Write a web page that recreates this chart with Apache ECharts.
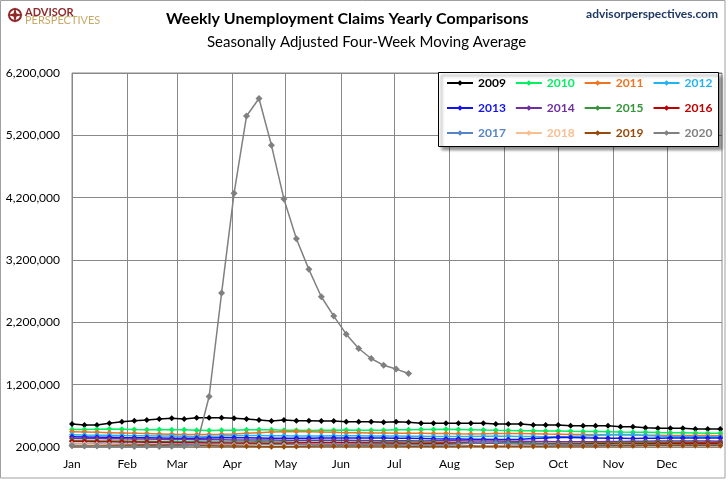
<!DOCTYPE html>
<html>
<head>
<meta charset="utf-8">
<script src="https://cdn.jsdelivr.net/npm/echarts@6/dist/echarts.min.js"></script>
<style>
  html, body { margin: 0; padding: 0; background: #fff; }
  #chartContainer { width: 728px; height: 480px; }
</style>
</head>
<body>
<div id="chartContainer"></div>
<script>
// month gridlines (day of year) and their labels
var monthStarts = [0, 31, 59, 90, 120, 151, 181, 212, 243, 273, 304, 334];
var monthLabels = ['Jan', 'Feb', 'Mar', 'Apr', 'May', 'Jun', 'Jul', 'Aug', 'Sep', 'Oct', 'Nov', 'Dec'];

// y axis ticks
var yMin = 200000, yMax = 6200000, yStep = 1000000;

var yearNames = ['2009', '2010', '2011', '2012', '2013', '2014', '2015', '2016', '2017', '2018', '2019', '2020'];
var yearColors = ['#000000', '#00f060', '#ee7422', '#22b4f0', '#1414f0', '#7030a0', '#35953a', '#c00000', '#5585c5', '#f9bf8f', '#984807', '#808080'];

// weekly 4-week moving average, thousands of claims
var claims2009 = [569, 553, 553, 580, 606, 622, 633, 649, 660, 649, 671, 671, 671, 660, 649, 633, 617, 633, 622, 622, 617, 617, 606, 606, 606, 596,
                  606, 596, 580, 580, 580, 580, 580, 580, 569, 569, 569, 553, 553, 553, 542, 542, 542, 542, 526, 526, 510, 500, 500, 500, 489, 489, 489];
var claims2010 = [480, 482, 485, 488, 485, 480, 478, 480, 478, 475, 470, 465, 468, 470, 475, 478, 475, 470, 468, 465, 468, 470, 472, 470, 468, 470,
                  475, 478, 480, 482, 485, 482, 478, 472, 468, 465, 462, 460, 458, 455, 452, 450, 448, 445, 440, 438, 435, 432, 430, 428, 425, 422, 420];
var claims2011 = [445, 440, 435, 430, 425, 420, 415, 410, 405, 400, 400, 402, 405, 410, 420, 430, 440, 445, 450, 445, 440, 435, 430, 428, 425, 424,
                  422, 420, 420, 418, 415, 412, 410, 412, 415, 418, 416, 412, 408, 405, 402, 400, 398, 396, 395, 393, 390, 388, 386, 385, 384, 383, 382];
var claims2012 = [395, 392, 390, 388, 385, 382, 380, 378, 375, 372, 370, 372, 375, 380, 385, 385, 382, 380, 378, 376, 378, 380, 382, 380, 378, 376,
                  375, 374, 372, 370, 368, 368, 370, 372, 374, 372, 370, 368, 366, 365, 368, 375, 385, 395, 400, 395, 385, 375, 370, 368, 366, 365, 364];
var claims2013 = [365, 362, 358, 355, 352, 350, 348, 345, 342, 340, 342, 345, 348, 350, 348, 345, 342, 340, 340, 342, 344, 345, 346, 345, 344, 343,
                  342, 340, 336, 332, 330, 328, 326, 324, 322, 320, 325, 335, 345, 355, 352, 348, 345, 342, 340, 338, 340, 342, 345, 346, 345, 344, 343];
var claims2014 = [340, 338, 336, 334, 332, 330, 328, 325, 322, 320, 318, 316, 315, 314, 313, 312, 311, 310, 310, 310, 309, 308, 307, 305, 303, 302,
                  300, 299, 298, 299, 300, 300, 298, 296, 295, 294, 292, 290, 288, 286, 285, 284, 286, 288, 290, 292, 294, 295, 296, 297, 296, 295, 294];
var claims2015 = [305, 303, 300, 298, 296, 294, 292, 290, 288, 286, 284, 282, 280, 280, 282, 284, 282, 280, 278, 276, 276, 275, 275, 276, 278, 280,
                  282, 282, 280, 276, 272, 270, 270, 270, 272, 274, 270, 266, 262, 260, 262, 264, 268, 270, 272, 274, 275, 276, 276, 275, 275, 274, 274];
var claims2016 = [290, 288, 286, 284, 282, 280, 278, 275, 272, 270, 268, 266, 264, 262, 260, 258, 258, 260, 264, 268, 270, 270, 268, 266, 264, 262,
                  260, 258, 256, 258, 260, 262, 264, 262, 260, 258, 256, 254, 252, 250, 250, 252, 254, 252, 250, 252, 254, 256, 258, 260, 262, 262, 262];
var claims2017 = [252, 250, 248, 246, 245, 245, 244, 244, 245, 246, 246, 245, 244, 243, 242, 240, 240, 241, 242, 243, 244, 245, 246, 246, 245, 244,
                  242, 240, 238, 238, 242, 250, 262, 270, 268, 258, 250, 248, 245, 242, 240, 240, 238, 238, 237, 236, 236, 235, 235, 236, 237, 238, 238];
var claims2018 = [248, 245, 240, 236, 232, 228, 225, 224, 222, 222, 224, 226, 228, 230, 228, 226, 222, 220, 220, 220, 221, 222, 222, 222, 220, 218,
                  216, 215, 214, 213, 212, 212, 210, 209, 208, 208, 209, 210, 212, 214, 216, 218, 220, 222, 224, 224, 222, 222, 223, 222, 222, 222, 221];
var claims2019 = [215, 218, 222, 225, 228, 230, 232, 230, 228, 225, 222, 220, 218, 215, 212, 208, 205, 205, 208, 212, 215, 216, 217, 218, 218, 218,
                  216, 214, 212, 212, 213, 214, 215, 214, 213, 212, 212, 213, 214, 215, 216, 216, 218, 220, 222, 222, 224, 226, 226, 225, 225, 224, 224];
var claims2020 = [224, 216, 215, 213, 212, 210, 211, 210, 213, 215, 232, 1010, 2670, 4270, 5510, 5790, 5040, 4180, 3540, 3050, 2610, 2300, 2010, 1780,
                  1620, 1510, 1450, 1380];

var allClaims = [claims2009, claims2010, claims2011, claims2012, claims2013, claims2014, claims2015, claims2016, claims2017, claims2018, claims2019, claims2020];

function Set_Claims_echarts(){
    var chartContainer = document.getElementById('chartContainer');
    var myChart = echarts.init(chartContainer, null, { renderer: 'canvas' });
    var fontName = 'Lato';

    // week i of each year sits 7*i days after Jan 1 on the shared axis
    var series = allClaims.map(function (values, k) {
        return {
            name: yearNames[k],
            type: 'line',
            symbol: 'diamond',
            symbolSize: k === 11 ? 7 : 6,
            lineStyle: { width: 1.5, color: yearColors[k] },
            itemStyle: { color: yearColors[k] },
            emphasis: { disabled: true },
            data: values.map(function (v, i) { return [i * 7, v * 1000]; })
        };
    });

    // one legend per row of four years, inside a shared framed box
    var legendRowTops = [77, 102, 127];
    var legends = legendRowTops.map(function (top, r) {
        return {
            left: 446, top: top,
            orient: 'horizontal',
            itemWidth: 26, itemHeight: 7, itemGap: 9,
            padding: 0,
            z: 12,
            selectedMode: false,
            textStyle: { fontFamily: fontName, fontWeight: 'bold', fontSize: 12 },
            data: yearNames.slice(r * 4, r * 4 + 4).map(function (n, j) {
                return { name: n, textStyle: { color: yearColors[r * 4 + j] } };
            })
        };
    });

    var option = {
    animation: false,
    textStyle: { fontFamily: fontName },
    grid: {
        left: 72, right: 6, top: 73, bottom: 33,
        show: true, borderColor: '#888', borderWidth: 1
    },
    graphic: [
        { type: 'rect', shape: { x: 0.5, y: 0.5, width: 724.5, height: 477.5 },
          style: { fill: 'none', stroke: '#a0a0a0', lineWidth: 1 }, silent: true },
        { type: 'rect', z: 10, shape: { x: 438.5, y: 72.5, width: 280, height: 74 },
          style: { fill: '#fff', stroke: '#000', lineWidth: 1,
                   shadowColor: 'rgba(0,0,0,0.45)', shadowBlur: 3, shadowOffsetX: 3, shadowOffsetY: 3 } },
        { type: 'circle', shape: { cx: 15, cy: 15, r: 6 },
          style: { fill: '#fff', stroke: '#8e2a2a', lineWidth: 2 } },
        { type: 'polygon', shape: { points: [[15, 7], [16.5, 13.5], [23, 15], [16.5, 16.5], [15, 23], [13.5, 16.5], [7, 15], [13.5, 13.5]] },
          style: { fill: '#8e2a2a' } },
        { type: 'text', left: 25, top: 7,
          style: { text: 'ADVISOR', fill: '#8e2a2a', font: 'bold 11px Lato' } },
        { type: 'text', left: 25, top: 15,
          style: { text: 'PERSPECTIVES', fill: '#c8a96a', font: '11px Lato' } },
        { type: 'text', left: 166, top: 11,
          style: { text: 'Weekly Unemployment Claims Yearly Comparisons', fill: '#000', font: 'bold 16px Lato' } },
        { type: 'text', left: 207, top: 35,
          style: { text: 'Seasonally Adjusted Four-Week Moving Average', fill: '#000', font: '15px Lato' } },
        { type: 'text', right: 10, top: 8,
          style: { text: 'advisorperspectives.com', fill: '#1f3864', font: 'bold 12px Lato' } }
    ],
    legend: legends,
    xAxis: {
        type: 'value',
        min: 0, max: 365,
        axisLine: { show: false },
        axisTick: { show: false, customValues: monthStarts },
        axisLabel: {
            customValues: monthStarts,
            color: '#000', fontSize: 12, margin: 11,
            formatter: function (v) { return monthLabels[monthStarts.indexOf(v)]; }
        },
        splitLine: { show: true, lineStyle: { color: '#888', width: 1 } }
    },
    yAxis: {
        type: 'value',
        min: yMin, max: yMax, interval: yStep,
        axisLine: { show: false },
        axisTick: { show: false },
        axisLabel: {
            color: '#000', fontSize: 12, margin: 12,
            formatter: function (v) { return v.toLocaleString('en-US'); }
        },
        splitLine: { show: true, lineStyle: { color: '#888', width: 1 } }
    },
    series: series
    };

    myChart.setOption(option);
    window.addEventListener('resize', myChart.resize);
}
Set_Claims_echarts();
</script>
</body>
</html>
